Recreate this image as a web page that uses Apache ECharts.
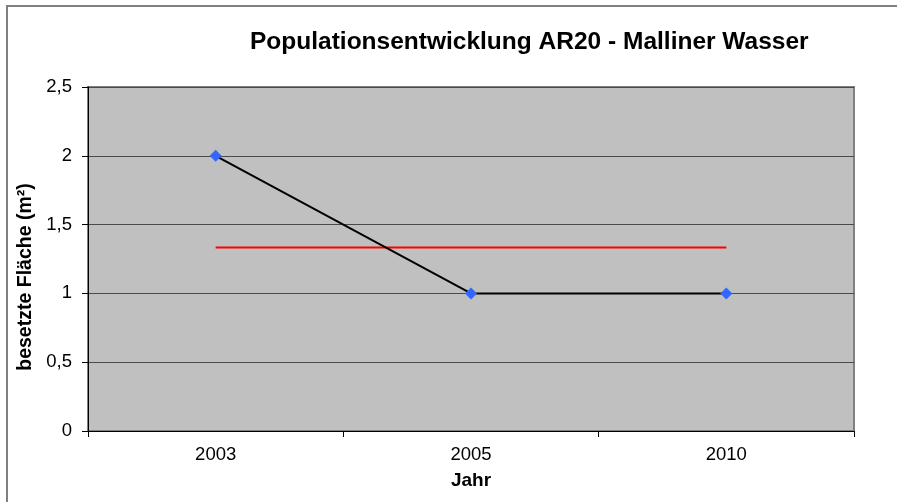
<!DOCTYPE html>
<html>
<head>
<meta charset="utf-8">
<script src="https://cdn.jsdelivr.net/npm/echarts@6/dist/echarts.min.js"></script>
<style>
  html, body { margin: 0; padding: 0; background: #fff; }
  #chart { width: 897px; height: 502px; }
</style>
</head>
<body>
<div id="chart"></div>
<script>
var years = ["2003", "2005", "2010"];
var flaeche = [2, 1, 1];
var mittel = [1.3333, 1.3333, 1.3333];

var myChart = echarts.init(document.getElementById("chart"));
var option = {
  animation: false,
  textStyle: { fontFamily: "Liberation Sans, Arial, sans-serif" },
  title: {
    text: "Populationsentwicklung AR20 - Malliner Wasser",
    left: 250,
    top: 30,
    padding: 0,
    textStyle: { fontSize: 24.5, fontWeight: "bold", color: "#000" },
  },
  graphic: [
    {
      type: "rect",
      shape: { x: 7, y: 6, width: 900, height: 510 },
      style: { fill: null, stroke: "#808080", lineWidth: 2 },
      silent: true,
    },
  ],
  grid: {
    left: 88,
    top: 87,
    right: 897 - 854,
    bottom: 502 - 431,
    show: true,
    backgroundColor: "#C0C0C0",
    borderColor: "#808080",
    borderWidth: 2,
  },
  xAxis: {
    type: "category",
    data: years,
    boundaryGap: true,
    name: "Jahr",
    nameLocation: "middle",
    nameGap: 40,
    nameTextStyle: { fontSize: 19, fontWeight: "bold", color: "#000" },
    axisLine: { lineStyle: { color: "#000", width: 1 } },
    axisTick: { show: true, interval: 0, length: 6, lineStyle: { color: "#000" } },
    axisLabel: { fontSize: 18.5, color: "#000", margin: 14 },
    splitLine: { show: false },
  },
  yAxis: {
    type: "value",
    min: 0,
    max: 2.5,
    interval: 0.5,
    name: "besetzte Fläche (m²)",
    nameLocation: "middle",
    nameGap: 51,
    nameTextStyle: {
      fontSize: 19.5,
      fontWeight: "bold",
      color: "#000",
      padding: [0, 36, 0, 0],
    },
    axisLine: { show: true, lineStyle: { color: "#000", width: 1 } },
    axisTick: { show: true, length: 6, lineStyle: { color: "#000" } },
    axisLabel: {
      fontSize: 18.5,
      color: "#000",
      margin: 16,
      formatter: function (v) {
        return String(v).replace(".", ",");
      },
    },
    splitLine: { show: true, lineStyle: { color: "#4a4a4a", width: 1 } },
  },
  series: [
    {
      name: "Fläche",
      type: "line",
      data: flaeche,
      symbol: "diamond",
      symbolSize: 12,
      lineStyle: { color: "#000", width: 2 },
      itemStyle: { color: "#3366FF" },
      z: 3,
    },
    {
      name: "Mittelwert",
      type: "line",
      data: mittel,
      symbol: "none",
      lineStyle: { color: "#FF0000", width: 2 },
      z: 2,
    },
  ],
};
option && myChart.setOption(option);
</script>
</body>
</html>
